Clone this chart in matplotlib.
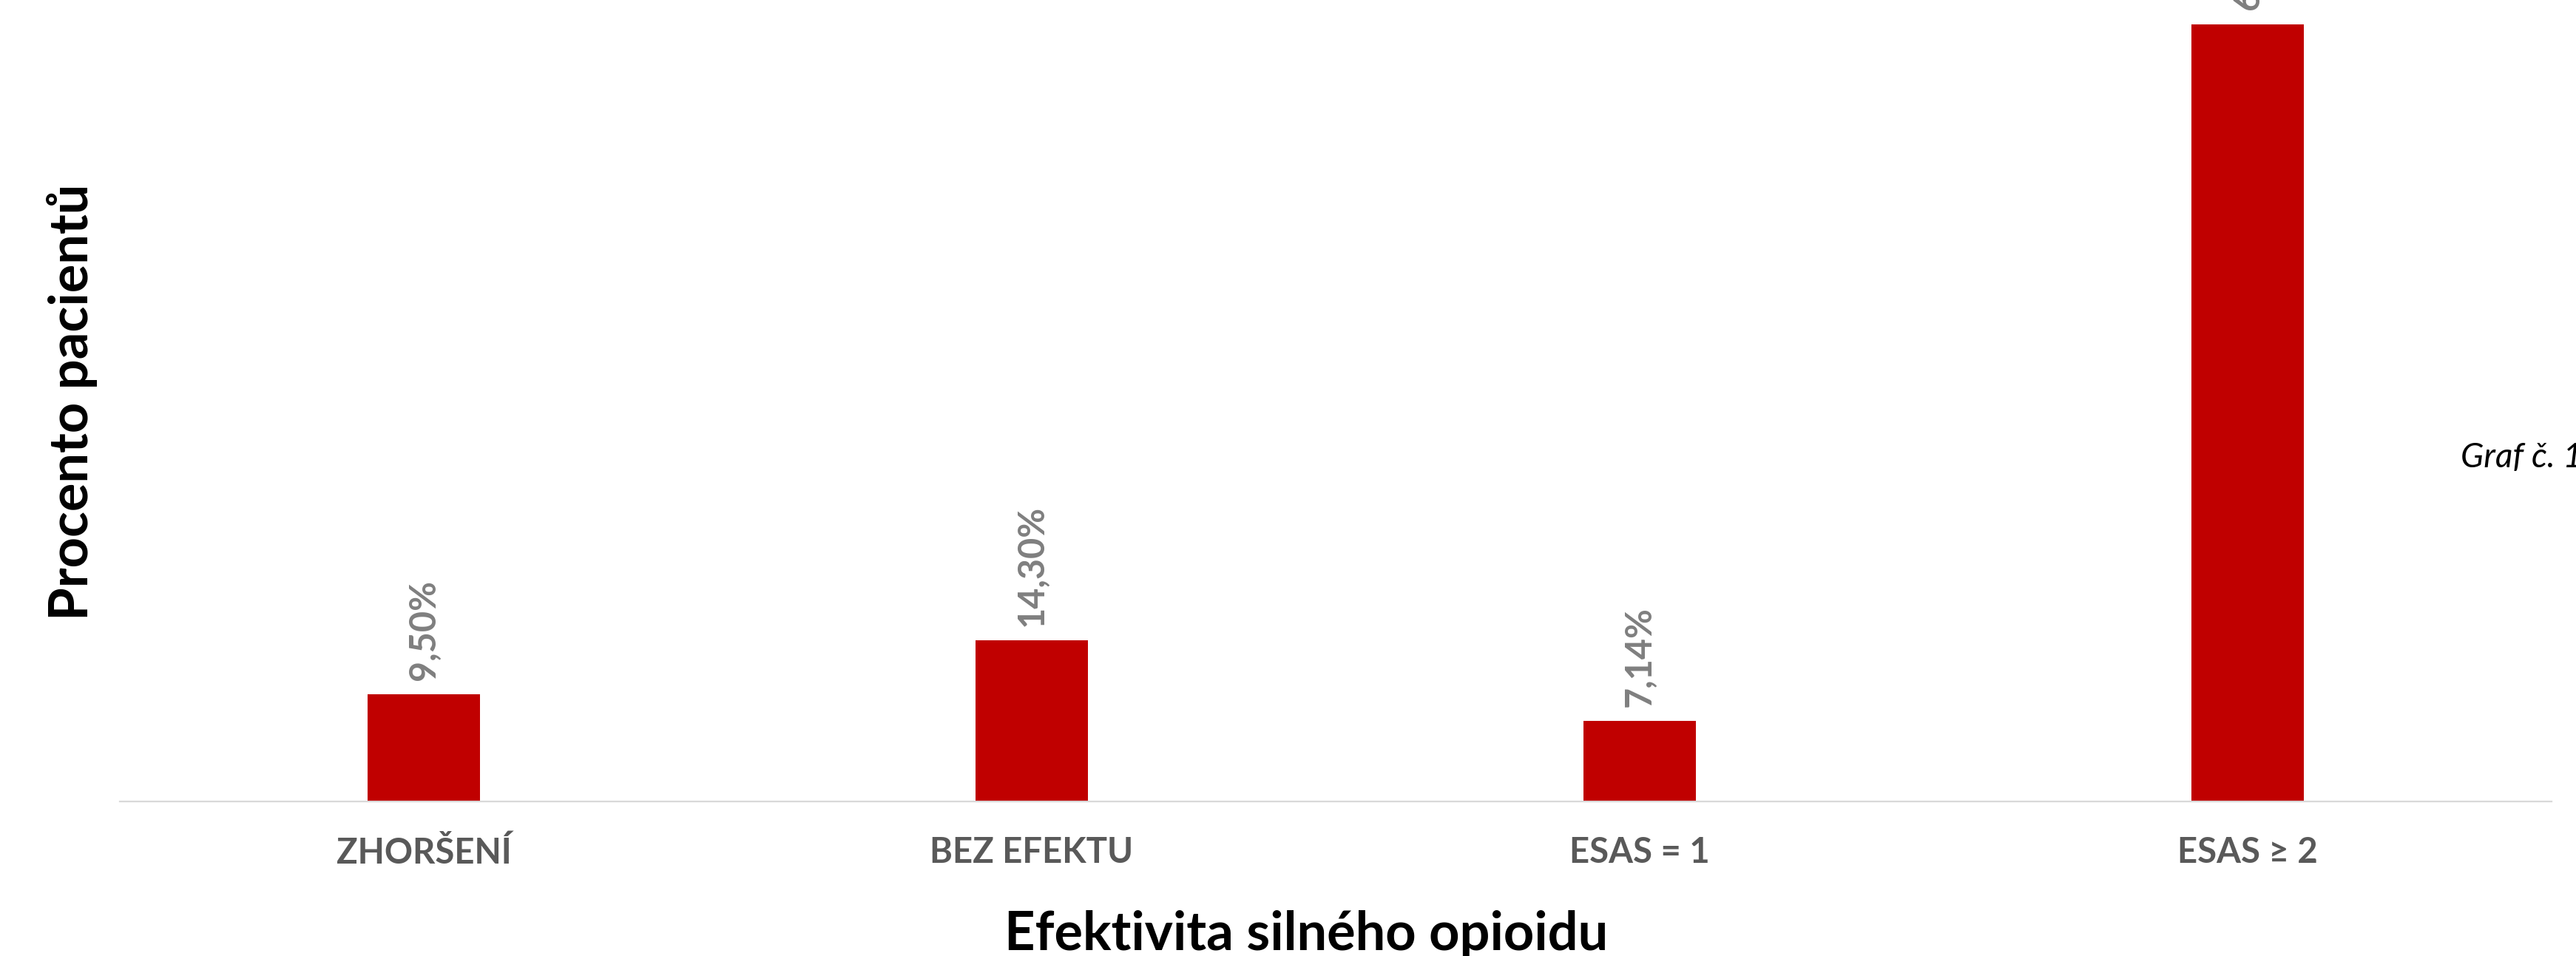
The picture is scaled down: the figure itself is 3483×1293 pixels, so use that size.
import numpy as np
import matplotlib.pyplot as plt

# data
categories = ['ZHORŠENÍ', 'BEZ EFEKTU', 'ESAS = 1', 'ESAS ≥ 2']
percent = [9.50, 14.30, 7.14, 69.06]
labels = ['9,50%', '14,30%', '7,14%', '69,06%']

plt.rcParams['font.family'] = ['Lato', 'DejaVu Sans']

W, H = 3483, 1293
fig = plt.figure(figsize=(W / 100, H / 100), dpi=100)

# plot area in pixels: x 162..3450, baseline at y=1084, top at figure edge
ax = fig.add_axes([162 / W, (H - 1084) / H, (3450 - 162) / W, 1084 / H])

x = np.arange(len(categories))
ax.bar(x, percent, width=0.184, color='#C00000', zorder=2)

ax.set_xlim(-0.5, len(categories) - 0.5)
ax.set_ylim(0, 71.2)

# data labels, rotated above each bar
for xi, v, lab in zip(x, percent, labels):
    ax.annotate(lab, (xi, v), xytext=(0, 14), textcoords='offset points',
                rotation=90, ha='center', va='bottom', fontsize=35,
                fontweight='bold', color='#7F7F7F', annotation_clip=False)

ax.set_xticks(x)
ax.set_xticklabels(categories, fontsize=34, fontweight='bold', color='#595959')
ax.tick_params(axis='x', length=0, pad=34)
ax.set_yticks([])

for side in ['left', 'right', 'top']:
    ax.spines[side].set_visible(False)
ax.spines['bottom'].set_color('#D9D9D9')
ax.spines['bottom'].set_linewidth(1.6)

# axis titles
ax.set_xlabel('Efektivita silného opioidu', fontsize=52, fontweight='bold', color='black')
ax.xaxis.label.set_va('baseline')
ax.xaxis.set_label_coords(0.488, -(1285 - 1084) / 1084)

ax.set_ylabel('Procento pacientů', fontsize=52, fontweight='bold', color='black')
ax.yaxis.label.set_va('center')
ax.yaxis.label.set_ha('center')
ax.yaxis.set_label_coords((98 - 162) / 3288, (1084 - 544) / 1084)

# caption at the right edge (cut off in the original)
fig.text(3327 / W, (H - 632) / H, 'Graf č. 1', fontsize=33, style='italic',
         color='black', ha='left', va='baseline')

fig.savefig('out.png', dpi=100)
